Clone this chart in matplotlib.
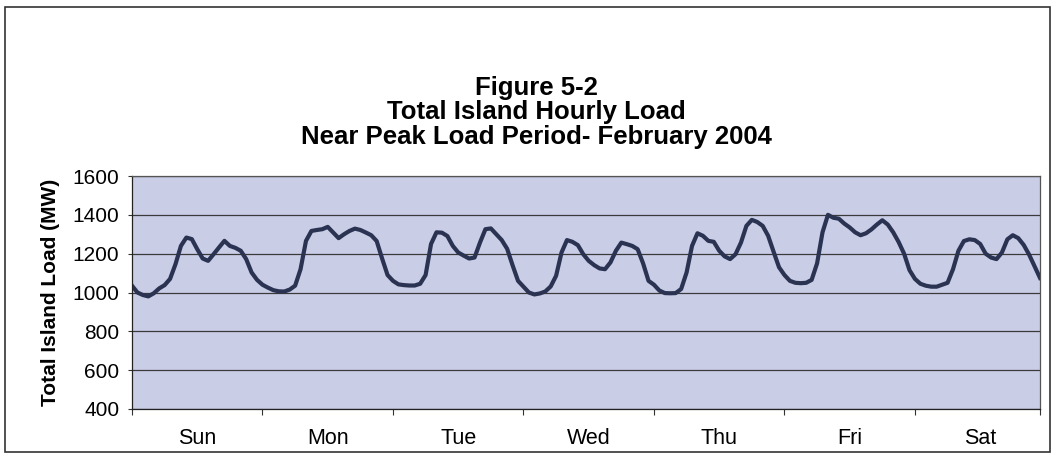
import numpy as np
import matplotlib
matplotlib.use("Agg")
import matplotlib.pyplot as plt
from matplotlib.patches import Rectangle

# hourly load (MW), one list per day
sun = [1035, 1000, 987, 980, 996, 1021, 1038, 1070, 1146, 1240, 1283, 1275,
       1223, 1175, 1163, 1197, 1232, 1266, 1240, 1230, 1215, 1172, 1103, 1065]
mon = [1040, 1025, 1012, 1006, 1005, 1015, 1035, 1120, 1266, 1317, 1322, 1326,
       1338, 1309, 1280, 1300, 1317, 1329, 1322, 1309, 1295, 1265, 1175, 1090]
tue = [1060, 1042, 1038, 1036, 1036, 1045, 1090, 1250, 1310, 1308, 1291, 1240,
       1206, 1190, 1175, 1180, 1257, 1326, 1330, 1300, 1270, 1225, 1140, 1060]
wed = [1030, 1000, 990, 995, 1005, 1031, 1086, 1206, 1270, 1261, 1244, 1197,
       1163, 1141, 1124, 1120, 1155, 1215, 1257, 1249, 1240, 1223, 1150, 1060]
thu = [1040, 1010, 997, 996, 997, 1018, 1103, 1240, 1305, 1292, 1266, 1261,
       1215, 1186, 1172, 1197, 1257, 1343, 1374, 1363, 1343, 1292, 1210, 1130]
fri = [1090, 1060, 1050, 1048, 1050, 1065, 1150, 1310, 1400, 1385, 1380, 1355,
       1335, 1310, 1295, 1305, 1325, 1350, 1372, 1350, 1310, 1260, 1200, 1115]
sat = [1070, 1045, 1035, 1030, 1030, 1040, 1050, 1120, 1215, 1265, 1274, 1270,
       1250, 1200, 1180, 1172, 1206, 1274, 1295, 1280, 1245, 1195, 1135, 1075]
days = ["Sun", "Mon", "Tue", "Wed", "Thu", "Fri", "Sat"]
yticks = [400, 600, 800, 1000, 1200, 1400, 1600]

load = np.array(sun + mon + tue + wed + thu + fri + sat)
hours = np.arange(len(load))

plt.rcParams["font.family"] = ["Liberation Sans", "DejaVu Sans"]

fig = plt.figure(figsize=(10.52, 4.58), dpi=100)
ax = fig.add_axes([132 / 1052, 1 - 409 / 458, 908 / 1052, 233 / 458])
ax.set_facecolor("#c9cde6")

ax.plot(hours, load, color="#2b3352", lw=3.0, solid_joinstyle="round")

ax.set_ylim(400, 1600)
ax.set_yticks(yticks)
ax.tick_params(axis="y", labelsize=15, length=3, pad=6, color="#333333")
ax.grid(axis="y", color="#3a3a3a", lw=0.9)
ax.set_axisbelow(True)

ax.set_xlim(0, len(load) - 1)
ax.set_xticks([0, 24, 48, 72, 96, 120, 144, len(load) - 1])
ax.set_xticklabels([])
ax.tick_params(axis="x", which="major", length=4, color="#333333")
ax.set_xticks(np.arange(12, 168, 24), minor=True)
ax.set_xticklabels(days, minor=True)
ax.tick_params(axis="x", which="minor", length=0, labelsize=15.5, pad=14)

for s in ax.spines.values():
    s.set_color("#555555")
    s.set_linewidth(0.9)
ax.spines["left"].set_color("#222222")
ax.spines["bottom"].set_color("#222222")

ax.set_ylabel("Total Island Load (MW)", fontsize=15, fontweight="bold", labelpad=9)

fig.text(536 / 1052, 1 - 88 / 458, "Figure 5-2", ha="center", va="center",
         fontsize=18.5, fontweight="bold")
fig.text(536 / 1052, 1 - 112 / 458, "Total Island Hourly Load", ha="center",
         va="center", fontsize=18.5, fontweight="bold")
fig.text(536 / 1052, 1 - 137 / 458, "Near Peak Load Period- February 2004",
         ha="center", va="center", fontsize=18.5, fontweight="bold")

fig.patches.append(Rectangle((5 / 1052, 6 / 458), 1045 / 1052, 445 / 458,
                             transform=fig.transFigure, fill=False,
                             edgecolor="#333333", lw=1.2))

fig.savefig("out.png", dpi=100)
